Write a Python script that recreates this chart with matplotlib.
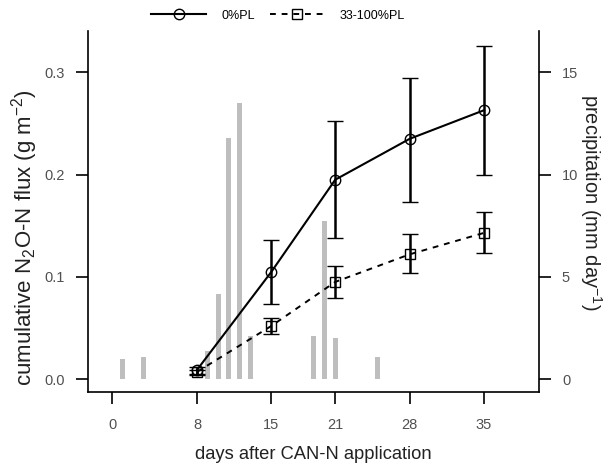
import matplotlib
matplotlib.use("Agg")
import matplotlib.pyplot as plt
from matplotlib.lines import Line2D
import numpy as np

plt.rcParams['font.family'] = ['Liberation Sans', 'DejaVu Sans']
plt.rcParams['mathtext.fontset'] = 'custom'
plt.rcParams['mathtext.rm'] = 'Liberation Sans'
plt.rcParams['mathtext.it'] = 'Liberation Sans:italic'

# sampling days and cumulative N2O-N flux (g m-2), mean with error bar limits
days = [8, 15, 21, 28, 35]
pl0_mean = [0.009, 0.105, 0.195, 0.235, 0.263]
pl0_lo = [0.005, 0.073, 0.138, 0.1735, 0.1995]
pl0_hi = [0.012, 0.136, 0.252, 0.295, 0.3255]
pl33_mean = [0.007, 0.052, 0.095, 0.122, 0.143]
pl33_lo = [0.004, 0.044, 0.0795, 0.104, 0.123]
pl33_hi = [0.009, 0.0598, 0.1105, 0.1415, 0.1634]

# daily precipitation (mm day-1)
rain_days = [1, 3, 9, 10, 11, 12, 13, 19, 20, 21, 25]
rain_mm = [1.0, 1.1, 1.35, 4.15, 11.8, 13.5, 2.1, 2.1, 7.75, 2.0, 1.1]

x_ticks = [0, 8, 15, 21, 28, 35]

tick_col = '#505050'
lab_col = '#222222'

fig = plt.figure(figsize=(6.04, 4.63), dpi=100)
ax = fig.add_axes([88 / 604, 1 - 392 / 463, (539 - 88) / 604, (392 - 31) / 463])
ax2 = ax.twinx()

# bars on the right axis, drawn behind the flux lines
ax2.bar(rain_days, rain_mm, width=0.47, color='#bebebe', zorder=1)
ax.set_zorder(ax2.get_zorder() + 1)
ax.patch.set_visible(False)

m0 = np.array(pl0_mean)
m33 = np.array(pl33_mean)
ax.errorbar(days, m0, yerr=[m0 - np.array(pl0_lo), np.array(pl0_hi) - m0],
            fmt='o-', color='k', mfc='none', mec='k', ms=7.5, mew=1.0, lw=1.5,
            elinewidth=1.8, capsize=5.8, capthick=1.8)
ax.errorbar(days, m33, yerr=[m33 - np.array(pl33_lo), np.array(pl33_hi) - m33],
            fmt='s', color='k', mfc='none', mec='k', ms=7.5, mew=1.0,
            elinewidth=1.8, capsize=5.8, capthick=1.8)
ax.plot(days, m33, color='k', lw=1.4, linestyle=(0, (3, 3)))

ax.set_xlim(-2.26, 40.17)
ax.set_ylim(-0.0127, 0.3405)
ax2.set_ylim(-0.635, 17.03)

ax.set_xticks(x_ticks)
ax.set_yticks([0.0, 0.1, 0.2, 0.3])
ax.set_yticklabels(['0.0', '0.1', '0.2', '0.3'])
ax2.set_yticks([0, 5, 10, 15])

for a in (ax, ax2):
    a.tick_params(direction='out', length=8.5, width=1.2, pad=8, labelsize=10.5,
                  labelcolor=tick_col, color='k')
    a.spines['top'].set_visible(False)
    for s in a.spines.values():
        s.set_linewidth(1.2)
ax.tick_params(axis='x', pad=10)
ax.spines['right'].set_visible(False)
ax2.spines['left'].set_visible(False)
ax2.spines['bottom'].set_visible(False)

ax.set_xlabel('days after CAN-N application', fontsize=13.2, color=lab_col,
              labelpad=10.5)
ax.set_ylabel('cumulative N$_2$O-N flux (g m$^{-2}$)', fontsize=16, color=lab_col,
              va='center', ha='center')
ax.yaxis.set_label_coords(-0.1397, 0.4266)
ax2.set_ylabel('precipitation (mm day$^{-1}$)', fontsize=14.5, color=lab_col,
               rotation=270, va='center', ha='center')
ax2.yaxis.set_label_coords(1.116, 0.526)

handles = [Line2D([], [], color='k', lw=1.5, marker='o', mfc='none', ms=7.5),
           Line2D([], [], color='k', lw=1.4, linestyle=(0, (3, 3)), marker='s',
                  mfc='none', ms=7.5)]
fig.legend(handles, ['0%PL', '33-100%PL'], loc='center',
           bbox_to_anchor=(278 / 604, 1 - 15.7 / 463), ncol=2, frameon=False,
           fontsize=9, handlelength=4.4, handletextpad=1.2, columnspacing=1.2)

fig.savefig('out.png', dpi=100)
